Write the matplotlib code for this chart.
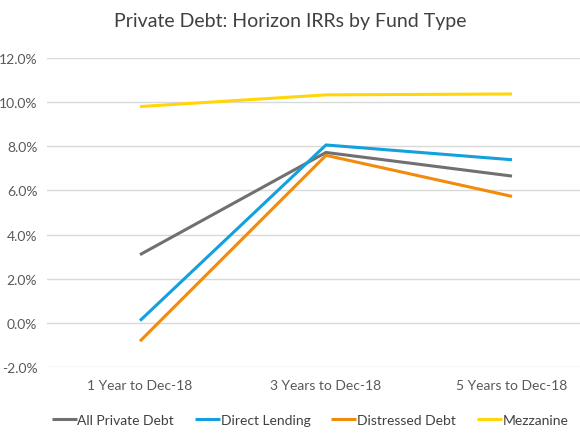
import matplotlib.pyplot as plt
from matplotlib.ticker import FuncFormatter

# data
periods = ["1 Year to Dec-18", "3 Years to Dec-18", "5 Years to Dec-18"]
all_private_debt = [3.09, 7.72, 6.65]
direct_lending = [0.10, 8.06, 7.39]
distressed_debt = [-0.83, 7.59, 5.73]
mezzanine = [9.80, 10.33, 10.37]

series_names = ["All Private Debt", "Direct Lending", "Distressed Debt", "Mezzanine"]
series_colors = ["#707070", "#13A0DC", "#F28A0C", "#FFD60A"]

plt.rcParams['font.family'] = ['Lato', 'DejaVu Sans']

fig = plt.figure(figsize=(5.8, 4.35), dpi=100)
ax = fig.add_axes([47/580, 67/435, 558/580, 309/435])

x = range(len(periods))
for vals, name, col in zip([all_private_debt, direct_lending, distressed_debt, mezzanine],
                           series_names, series_colors):
    ax.plot(x, vals, color=col, lw=2.2, label=name, solid_capstyle='butt')

ax.set_xlim(-0.5, 2.5)
ax.set_ylim(-2, 12)
ax.set_yticks(range(-2, 13, 2))
ax.yaxis.set_major_formatter(FuncFormatter(lambda v, p: "%.1f%%" % v))
ax.set_xticks(list(x))
ax.set_xticklabels(periods)

ax.grid(axis='y', color='#D9D9D9', lw=1)
ax.set_axisbelow(True)
for s in ax.spines.values():
    s.set_visible(False)
ax.tick_params(axis='both', length=0, labelsize=10, colors='#595959')
ax.tick_params(axis='y', pad=7)
ax.tick_params(axis='x', pad=9)

fig.text(290/580, 1 - 22/435, "Private Debt: Horizon IRRs by Fund Type",
         ha='center', va='center', fontsize=14, color='#404040')

fig.legend(loc='center', bbox_to_anchor=(310/580, 1 - 421/435), ncol=4, frameon=False,
           fontsize=10, handlelength=1.8, handletextpad=0.05, columnspacing=1.5,
           labelcolor='#404040')

fig.savefig("out.png", dpi=100)
